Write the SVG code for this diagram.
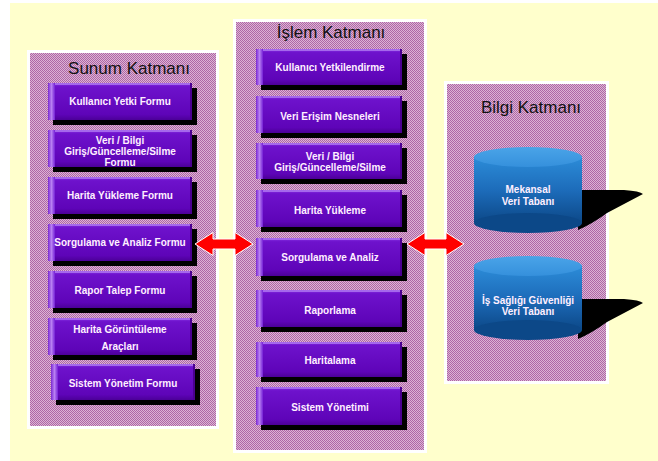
<svg xmlns="http://www.w3.org/2000/svg" width="658" height="461" viewBox="0 0 658 461">
  <defs>
    <pattern id="dither" x="0" y="0" width="2" height="2" patternUnits="userSpaceOnUse">
      <rect width="2" height="2" fill="#DCB4D4"/>
      <rect x="0" y="0" width="1" height="1" fill="#AE66A6"/>
      <rect x="1" y="1" width="1" height="1" fill="#AE66A6"/>
    </pattern>
    <linearGradient id="btnFace" x1="0" y1="0" x2="0" y2="1">
      <stop offset="0" stop-color="#8A34E6"/>
      <stop offset="0.1" stop-color="#6E12CC"/>
      <stop offset="0.85" stop-color="#5E04B8"/>
      <stop offset="1" stop-color="#4C0098"/>
    </linearGradient>
    <linearGradient id="btnBevel" x1="0" y1="0" x2="1" y2="0">
      <stop offset="0" stop-color="#7A28D2"/>
      <stop offset="0.5" stop-color="#B880F2"/>
      <stop offset="1" stop-color="#7420D6"/>
    </linearGradient>
    <linearGradient id="cylBody" x1="0" y1="0" x2="0" y2="1">
      <stop offset="0" stop-color="#2C8CD8"/>
      <stop offset="0.5" stop-color="#1D6CBA"/>
      <stop offset="1" stop-color="#0C4888"/>
    </linearGradient>
    <linearGradient id="cylTop" x1="0" y1="0" x2="0" y2="1">
      <stop offset="0" stop-color="#4AA4E8"/>
      <stop offset="1" stop-color="#3590DC"/>
    </linearGradient>
    <style>
      .panelBorder { fill: #FFFFFF; }
      .panelFill { fill: url(#dither); }
      .title { font-family: "Liberation Sans", Arial, sans-serif; font-size: 17px; fill: #111111; text-anchor: middle; }
      .shadow { fill: #000000; }
      .face { fill: url(#btnFace); }
      .bevel { fill: url(#btnBevel); }
      .hl { fill: #A568EC; }
      .redge { fill: #4A0090; }
      .lbl { font-family: "Liberation Sans", Arial, sans-serif; font-size: 10px; font-weight: bold; fill: #FFF0FF; text-anchor: middle; }
      .arrow { fill: #FF0000; stroke: #FFFFFF; stroke-width: 1; }
      .cbody { fill: url(#cylBody); }
      .ctop { fill: url(#cylTop); }
      .cbot { fill: #0C4888; }
    </style>
  </defs>

  <rect x="10" y="3" width="648" height="458" fill="#FFFFCC"/>

  <g id="panels">
    <g id="panel-sunum">
      <rect class="panelBorder" x="27" y="50" width="192" height="379"/>
      <rect class="panelFill" x="30" y="53" width="186" height="373"/>
      <text class="title" x="129" y="74">Sunum Katmanı</text>
    </g>
    <g id="panel-islem">
      <rect class="panelBorder" x="233" y="19" width="194" height="434"/>
      <rect class="panelFill" x="236" y="22" width="188" height="428"/>
      <text class="title" x="331" y="38">İşlem Katmanı</text>
    </g>
    <g id="panel-bilgi">
      <rect class="panelBorder" x="444" y="81" width="165" height="303"/>
      <rect class="panelFill" x="447" y="84" width="159" height="297"/>
      <text class="title" x="531" y="113">Bilgi Katmanı</text>
    </g>
  </g>

  <!-- Sunum Katmanı buttons -->
  <g id="s1">
    <rect class="shadow" x="53" y="88" width="144" height="37"/>
    <rect class="face" x="48" y="83" width="144" height="37"/>
    <rect class="bevel" x="48" y="83" width="7" height="37"/>
    <rect class="hl" x="55" y="83" width="135" height="2"/>
    <rect class="redge" x="190" y="83" width="2" height="37"/>
    <text class="lbl" x="120" y="105">Kullanıcı Yetki Formu</text>
  </g>
  <g id="s2">
    <rect class="shadow" x="53" y="135" width="144" height="37"/>
    <rect class="face" x="48" y="130" width="144" height="37"/>
    <rect class="bevel" x="48" y="130" width="7" height="37"/>
    <rect class="hl" x="55" y="130" width="135" height="2"/>
    <rect class="redge" x="190" y="130" width="2" height="37"/>
    <text class="lbl" x="120" y="143.5">Veri / Bilgi</text>
    <text class="lbl" x="120" y="154.5">Giriş/Güncelleme/Silme</text>
    <text class="lbl" x="120" y="165.5">Formu</text>
  </g>
  <g id="s3">
    <rect class="shadow" x="53" y="182" width="144" height="37"/>
    <rect class="face" x="48" y="177" width="144" height="37"/>
    <rect class="bevel" x="48" y="177" width="7" height="37"/>
    <rect class="hl" x="55" y="177" width="135" height="2"/>
    <rect class="redge" x="190" y="177" width="2" height="37"/>
    <text class="lbl" x="120" y="199">Harita Yükleme Formu</text>
  </g>
  <g id="s4">
    <rect class="shadow" x="53" y="229" width="144" height="37"/>
    <rect class="face" x="48" y="224" width="144" height="37"/>
    <rect class="bevel" x="48" y="224" width="7" height="37"/>
    <rect class="hl" x="55" y="224" width="135" height="2"/>
    <rect class="redge" x="190" y="224" width="2" height="37"/>
    <text class="lbl" x="120" y="246">Sorgulama ve Analiz Formu</text>
  </g>
  <g id="s5">
    <rect class="shadow" x="53" y="276" width="144" height="37"/>
    <rect class="face" x="48" y="271" width="144" height="37"/>
    <rect class="bevel" x="48" y="271" width="7" height="37"/>
    <rect class="hl" x="55" y="271" width="135" height="2"/>
    <rect class="redge" x="190" y="271" width="2" height="37"/>
    <text class="lbl" x="120" y="293.5">Rapor Talep Formu</text>
  </g>
  <g id="s6">
    <rect class="shadow" x="53" y="323" width="144" height="37"/>
    <rect class="face" x="48" y="318" width="144" height="37"/>
    <rect class="bevel" x="48" y="318" width="7" height="37"/>
    <rect class="hl" x="55" y="318" width="135" height="2"/>
    <rect class="redge" x="190" y="318" width="2" height="37"/>
    <text class="lbl" x="120" y="332.5">Harita Görüntüleme</text>
    <text class="lbl" x="120" y="349.5">Araçları</text>
  </g>
  <g id="s7">
    <rect class="shadow" x="56" y="369" width="144" height="36"/>
    <rect class="face" x="51" y="364" width="144" height="36"/>
    <rect class="bevel" x="51" y="364" width="7" height="36"/>
    <rect class="hl" x="58" y="364" width="135" height="2"/>
    <rect class="redge" x="193" y="364" width="2" height="36"/>
    <text class="lbl" x="123" y="387">Sistem Yönetim Formu</text>
  </g>

  <!-- İşlem Katmanı buttons -->
  <g id="i1">
    <rect class="shadow" x="261" y="54" width="146" height="36"/>
    <rect class="face" x="256" y="49" width="146" height="36"/>
    <rect class="bevel" x="256" y="49" width="7" height="36"/>
    <rect class="hl" x="263" y="49" width="137" height="2"/>
    <rect class="redge" x="400" y="49" width="2" height="36"/>
    <text class="lbl" x="330" y="71">Kullanıcı Yetkilendirme</text>
  </g>
  <g id="i2">
    <rect class="shadow" x="261" y="101" width="146" height="37"/>
    <rect class="face" x="256" y="96" width="146" height="37"/>
    <rect class="bevel" x="256" y="96" width="7" height="37"/>
    <rect class="hl" x="263" y="96" width="137" height="2"/>
    <rect class="redge" x="400" y="96" width="2" height="37"/>
    <text class="lbl" x="330" y="120">Veri Erişim Nesneleri</text>
  </g>
  <g id="i3">
    <rect class="shadow" x="261" y="148" width="146" height="36"/>
    <rect class="face" x="256" y="143" width="146" height="36"/>
    <rect class="bevel" x="256" y="143" width="7" height="36"/>
    <rect class="hl" x="263" y="143" width="137" height="2"/>
    <rect class="redge" x="400" y="143" width="2" height="36"/>
    <text class="lbl" x="330" y="159.5">Veri / Bilgi</text>
    <text class="lbl" x="330" y="170.5">Giriş/Güncelleme/Silme</text>
  </g>
  <g id="i4">
    <rect class="shadow" x="261" y="195" width="146" height="37"/>
    <rect class="face" x="256" y="190" width="146" height="37"/>
    <rect class="bevel" x="256" y="190" width="7" height="37"/>
    <rect class="hl" x="263" y="190" width="137" height="2"/>
    <rect class="redge" x="400" y="190" width="2" height="37"/>
    <text class="lbl" x="330" y="213.5">Harita Yükleme</text>
  </g>
  <g id="i5">
    <rect class="shadow" x="261" y="243" width="146" height="38"/>
    <rect class="face" x="256" y="238" width="146" height="38"/>
    <rect class="bevel" x="256" y="238" width="7" height="38"/>
    <rect class="hl" x="263" y="238" width="137" height="2"/>
    <rect class="redge" x="400" y="238" width="2" height="38"/>
    <text class="lbl" x="330" y="261">Sorgulama ve Analiz</text>
  </g>
  <g id="i6">
    <rect class="shadow" x="261" y="295" width="146" height="37"/>
    <rect class="face" x="256" y="290" width="146" height="37"/>
    <rect class="bevel" x="256" y="290" width="7" height="37"/>
    <rect class="hl" x="263" y="290" width="137" height="2"/>
    <rect class="redge" x="400" y="290" width="2" height="37"/>
    <text class="lbl" x="330" y="313.5">Raporlama</text>
  </g>
  <g id="i7">
    <rect class="shadow" x="261" y="347" width="146" height="35"/>
    <rect class="face" x="256" y="342" width="146" height="35"/>
    <rect class="bevel" x="256" y="342" width="7" height="35"/>
    <rect class="hl" x="263" y="342" width="137" height="2"/>
    <rect class="redge" x="400" y="342" width="2" height="35"/>
    <text class="lbl" x="330" y="363.5">Haritalama</text>
  </g>
  <g id="i8">
    <rect class="shadow" x="261" y="392" width="146" height="38"/>
    <rect class="face" x="256" y="387" width="146" height="38"/>
    <rect class="bevel" x="256" y="387" width="7" height="38"/>
    <rect class="hl" x="263" y="387" width="137" height="2"/>
    <rect class="redge" x="400" y="387" width="2" height="38"/>
    <text class="lbl" x="330" y="411">Sistem Yönetimi</text>
  </g>

  <!-- Bilgi Katmanı databases -->
  <g id="db1">
    <path class="shadow" d="M578,190 L624,190 Q640,191 643,194 L607,213 Q592,224 578,230 Z"/>
    <rect class="cbody" x="474" y="157" width="108" height="66"/>
    <ellipse class="cbot" cx="528" cy="223" rx="54" ry="10"/>
    <ellipse class="ctop" cx="528" cy="157" rx="54" ry="10"/>
    <text class="lbl" x="528" y="192.5">Mekansal</text>
    <text class="lbl" x="528" y="204.5">Veri Tabanı</text>
  </g>
  <g id="db2">
    <path class="shadow" d="M578,299 L624,299 Q640,300 643,303 L607,322 Q592,333 578,339 Z"/>
    <rect class="cbody" x="474" y="266" width="108" height="64"/>
    <ellipse class="cbot" cx="528" cy="330" rx="54" ry="10"/>
    <ellipse class="ctop" cx="528" cy="266" rx="54" ry="10"/>
    <text class="lbl" x="528" y="303.5">İş Sağlığı Güvenliği</text>
    <text class="lbl" x="528" y="314.5">Veri Tabanı</text>
  </g>

  <g id="connectors">
    <path class="arrow" d="M195,244 L213,232.5 L213,239 L235,239 L235,232.5 L253,244 L235,255.5 L235,249 L213,249 L213,255.5 Z"/>
    <path class="arrow" d="M407,244 L425,232.5 L425,239 L446,239 L446,232.5 L464,244 L446,255.5 L446,249 L425,249 L425,255.5 Z"/>
  </g>
</svg>
